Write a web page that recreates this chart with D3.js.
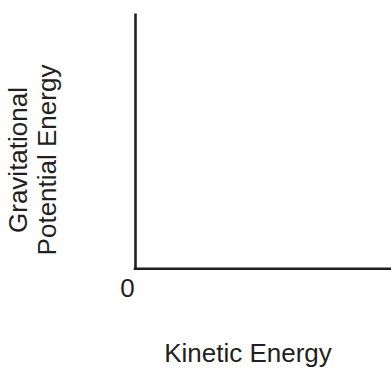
<!DOCTYPE html>
<html>
<head>
<meta charset="utf-8">
<script src="https://cdn.jsdelivr.net/npm/d3@7"></script>
<style>
  html, body { margin: 0; padding: 0; background: #fff; }
  svg { display: block; }
  text { font-family: "Liberation Sans", Arial, sans-serif; fill: #231f20; }
</style>
</head>
<body>
<div id="chart"></div>
<script>
// Chart content
const xDomain = [0, 1];
const yDomain = [0, 1];
const originTicks = [0];
const xTitle = "Kinetic Energy";
const yTitleLines = ["Gravitational", "Potential Energy"];

const width = 391;
const height = 369;

const svg = d3.select("#chart")
    .append("svg")
    .attr("width", width)
    .attr("height", height);

// Scales
const x = d3.scaleLinear().domain(xDomain).range([135, 392]);
const y = d3.scaleLinear().domain(yDomain).range([268.8, 13]);

// Axis lines (no ticks)
const xAxis = d3.axisBottom(x).tickValues([]).tickSizeOuter(0);
const yAxis = d3.axisLeft(y).tickValues([]).tickSizeOuter(0);

svg.append("g")
    .attr("transform", `translate(0,${y(0)})`)
    .call(xAxis)
    .call(g => g.select(".domain")
        .attr("stroke", "#231f20")
        .attr("stroke-width", 2.6)
        .attr("d", `M${x(0) - 1.3},0H${x(1)}`));

svg.append("g")
    .attr("transform", `translate(${x(0)},0)`)
    .call(yAxis)
    .call(g => g.select(".domain")
        .attr("stroke", "#231f20")
        .attr("stroke-width", 2.6));

// Origin label
svg.selectAll(".origin")
    .data(originTicks)
    .enter()
    .append("text")
    .attr("class", "origin")
    .attr("x", d => x(d) - 7.5)
    .attr("y", d => y(d) + 28.5)
    .attr("text-anchor", "middle")
    .style("font-size", "26px")
    .text(d => d);

// X title
svg.append("text")
    .attr("x", 248)
    .attr("y", 362)
    .attr("text-anchor", "middle")
    .style("font-size", "26px")
    .text(xTitle);

// Y title (two lines, rotated)
const yTitle = svg.append("text")
    .attr("transform", "translate(27,160) rotate(-90)")
    .attr("text-anchor", "middle")
    .style("font-size", "26px");

yTitle.selectAll("tspan")
    .data(yTitleLines)
    .enter()
    .append("tspan")
    .attr("x", 0)
    .attr("dy", (d, i) => i === 0 ? 0 : 29)
    .text(d => d);
</script>
</body>
</html>
